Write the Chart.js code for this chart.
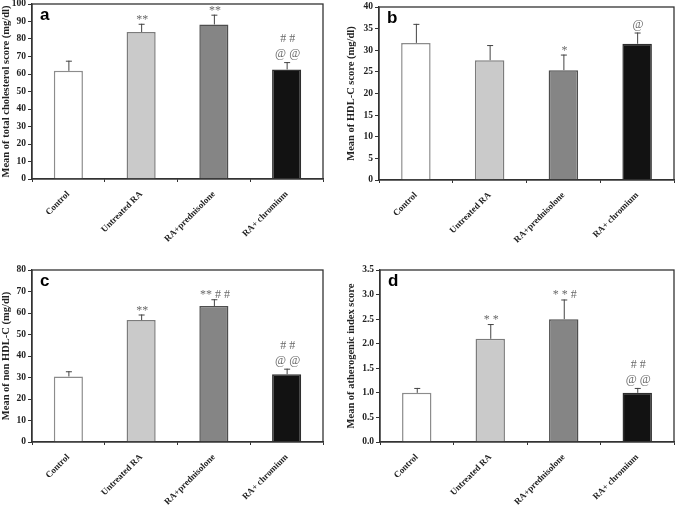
<!DOCTYPE html>
<html>
<head>
<meta charset="utf-8">
<script src="https://cdn.jsdelivr.net/npm/chart.js@4/dist/chart.umd.min.js"></script>
<style>
  html, body { margin: 0; padding: 0; background: #fff; }
  body { width: 676px; height: 515px; position: relative; overflow: hidden; }
  canvas { position: absolute; }
</style>
</head>
<body>
<canvas id="ca" width="340" height="262" style="left:0;top:-6px"></canvas>
<canvas id="cb" width="331" height="260" style="left:345px;top:-3px"></canvas>
<canvas id="cc" width="340" height="255" style="left:0;top:260px"></canvas>
<canvas id="cd" width="331" height="255" style="left:345px;top:260px"></canvas>
<script>
// Groups on the x axis (same in all four panels)
const groups = ['Control', 'Untreated RA', 'RA+prednisolone', 'RA+ chromium'];

// a: total cholesterol (mg/dl)
const totalCholMean = [61.8, 84.0, 88.3, 62.6];
const totalCholSd = [5.8, 4.7, 5.6, 4.2];
const totalCholSig = [[], ['**'], ['**'], ['@ @', '# #']];

// b: HDL-C (mg/dl)
const hdlMean = [31.7, 27.7, 25.4, 31.5];
const hdlSd = [4.4, 3.5, 3.6, 2.6];
const hdlSig = [[], [], ['*'], ['@']];

// c: non HDL-C (mg/dl)
const nonHdlMean = [30.5, 56.7, 63.2, 31.5];
const nonHdlSd = [2.4, 2.6, 3.2, 2.6];
const nonHdlSig = [[], ['**'], ['** # #'], ['@ @', '# #']];

// d: atherogenic index
const athMean = [1.0, 2.1, 2.5, 1.0];
const athSd = [0.1, 0.3, 0.4, 0.1];
const athSig = [[], ['* *'], ['* * #'], ['@ @', '# #']];

const barFill = ['#ffffff', '#cacaca', '#858585', '#121212'];
const barEdge = ['#8c8c8c', '#7c7c7c', '#4e4e4e', '#2e2e2e'];

const SERIF = "'Liberation Serif', 'Times New Roman', serif";
const AXIS = '#333';

// frame, error bars, significance marks and panel letter
const extrasPlugin = {
  id: 'extras',
  afterDatasetsDraw(chart, args, opts) {
    const { ctx, chartArea } = chart;
    const yScale = chart.scales.y;
    const meta = chart.getDatasetMeta(0);
    ctx.save();
    meta.data.forEach((bar, i) => {
      const top = yScale.getPixelForValue(opts.mean[i] + opts.sd[i]);
      ctx.strokeStyle = '#444';
      ctx.lineWidth = 1;
      ctx.beginPath();
      ctx.moveTo(bar.x + 0.5, bar.y);
      ctx.lineTo(bar.x + 0.5, top);
      ctx.moveTo(bar.x - 2.5, top + 0.5);
      ctx.lineTo(bar.x + 3.5, top + 0.5);
      ctx.stroke();

      ctx.fillStyle = '#6a6a6a';
      ctx.font = '12px ' + SERIF;
      ctx.textAlign = 'center';
      ctx.textBaseline = 'alphabetic';
      opts.sig[i].forEach((line, k) => {
        // asterisks sit high in the em box, so drop their baseline a little
        const base = line[0] === '*' ? top - 1 : top - 5;
        ctx.fillText(line, bar.x + 1, base - k * 15);
      });
    });

    ctx.strokeStyle = AXIS;
    ctx.lineWidth = 1.3;
    ctx.strokeRect(chartArea.left, chartArea.top, chartArea.right - chartArea.left, chartArea.bottom - chartArea.top);

    ctx.fillStyle = '#000';
    ctx.font = "bold 17px 'Liberation Sans', Arial, sans-serif";
    ctx.textAlign = 'left';
    ctx.fillText(opts.letter, chartArea.left + 8, chartArea.top + 16);
    ctx.restore();
  }
};

function makePanel(id, cfg) {
  return new Chart(document.getElementById(id), {
    type: 'bar',
    data: {
      labels: groups,
      datasets: [{
        data: cfg.mean,
        backgroundColor: barFill,
        borderColor: barEdge,
        borderWidth: 1.5,
        barPercentage: 0.4,
        categoryPercentage: 1
      }]
    },
    options: {
      responsive: false,
      animation: false,
      devicePixelRatio: 1,
      layout: { padding: { top: 10, right: cfg.padRight, bottom: 0, left: 0 } },
      plugins: {
        legend: { display: false },
        tooltip: { enabled: false },
        extras: { mean: cfg.mean, sd: cfg.sd, sig: cfg.sig, letter: cfg.letter }
      },
      scales: {
        x: {
          offset: true,
          grid: { offset: true, drawOnChartArea: false, tickLength: 3, color: AXIS },
          border: { color: AXIS, width: 1.3 },
          ticks: {
            autoSkip: false, minRotation: 45, maxRotation: 45, padding: 7,
            color: '#222', font: { family: SERIF, weight: 'bold', size: 9 }
          },
          afterFit(s) { s.height = cfg.xHeight; }
        },
        y: {
          min: 0, max: cfg.max,
          grid: { drawOnChartArea: false, tickLength: 4, color: AXIS },
          border: { color: AXIS, width: 1.3 },
          ticks: {
            stepSize: cfg.step, padding: 2, color: '#222',
            font: { family: SERIF, weight: 'bold', size: 9.5 },
            callback: v => cfg.decimals ? v.toFixed(cfg.decimals) : v
          },
          title: {
            display: true, text: cfg.title, color: '#222',
            font: { family: SERIF, weight: 'bold', size: 10.5 },
            padding: { top: 0, bottom: 0 }
          },
          afterFit(s) { s.width = cfg.yWidth; }
        }
      }
    },
    plugins: [extrasPlugin]
  });
}

makePanel('ca', {
  mean: totalCholMean, sd: totalCholSd, sig: totalCholSig, letter: 'a',
  max: 100, step: 10, title: 'Mean of total cholesterol score (mg/dl)',
  yWidth: 32, xHeight: 77, padRight: 17
});
makePanel('cb', {
  mean: hdlMean, sd: hdlSd, sig: hdlSig, letter: 'b',
  max: 40, step: 5, title: 'Mean of HDL-C score (mg/dl)',
  yWidth: 34, xHeight: 77, padRight: 2
});
makePanel('cc', {
  mean: nonHdlMean, sd: nonHdlSd, sig: nonHdlSig, letter: 'c',
  max: 80, step: 10, title: 'Mean of non HDL-C (mg/dl)',
  yWidth: 32, xHeight: 73, padRight: 17
});
makePanel('cd', {
  mean: athMean, sd: athSd, sig: athSig, letter: 'd',
  max: 3.5, step: 0.5, decimals: 1, title: 'Mean of atherogenic index score',
  yWidth: 35, xHeight: 73, padRight: 2
});
</script>
</body>
</html>
